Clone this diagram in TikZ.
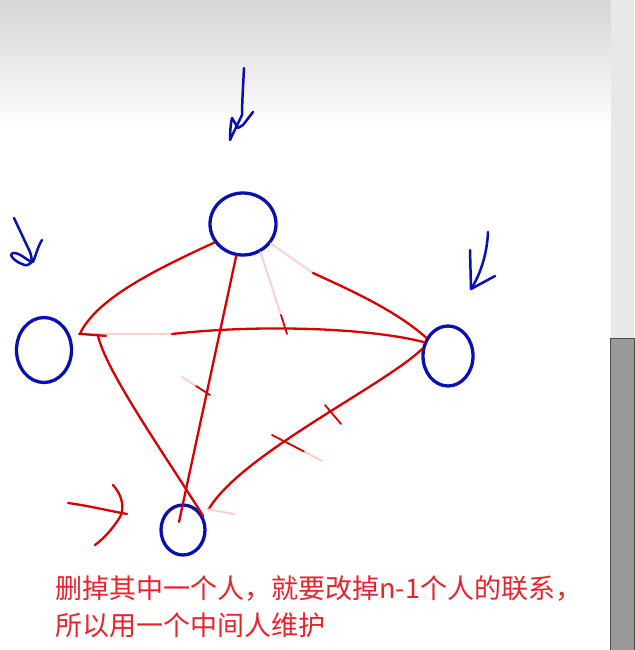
\documentclass[tikz,border=0pt]{standalone}
\usepackage{fontspec}
\newfontfamily\cjk{Noto Sans CJK SC}
\usepackage{tikz}
\usetikzlibrary{shapes.geometric,calc}
\definecolor{pen}{HTML}{D80000}
\definecolor{ink}{HTML}{0A10B0}
\definecolor{note}{HTML}{E8232A}
\definecolor{shadow}{HTML}{D6D6D6}

\begin{document}
\begin{tikzpicture}[
  x=1pt, y=-1pt,
  person/.style={ellipse, draw=ink, line width=3.3pt, inner sep=0pt},
  link/.style={pen, line width=2.3pt, line cap=round},
  faint/.style={pen!18, line width=2pt, line cap=round},
  tick/.style={pen, line width=1.8pt, line cap=round},
  pointer/.style={ink, line width=2.5pt, line cap=round, line join=round},
  notetext/.style={text=note, font=\cjk\fontsize{27}{30}\selectfont, inner sep=0pt}
]
  % screen background
  \useasboundingbox (0,0) rectangle (634,650);
  \fill[white] (0,0) rectangle (634,650);
  \shade[top color=shadow, bottom color=white] (0,0) rectangle (611,130);
  \fill[black!9] (611,0) rectangle (634,650);
  \filldraw[fill=black!40, draw=black!70, line width=0.8pt] (610.5,338) rectangle (634,650);

  % the four people
  \node[person, minimum width=66pt, minimum height=62pt] (ptop) at (243,224) {};
  \node[person, minimum width=55pt, minimum height=65pt] (pleft) at (44,350) {};
  \node[person, minimum width=50pt, minimum height=60pt] (pright) at (448,356) {};
  \node[person, minimum width=44pt, minimum height=50pt] (pbottom) at (183,530) {};

  \coordinate (corner) at ($(pleft.20)+(8,-6)$);
  \coordinate (lr) at (172,334);
  \coordinate (tr) at (313,273);
  \coordinate (rb) at ($(pbottom.45)+(8,-3)$);

  % links
  \draw[faint] (corner) -- (lr);
  \draw[link] (ptop.213) .. controls (150,272) and (96,300) .. (corner) -- ++(26,2);
  \draw[link] (lr) .. controls (260,324) and (370,328) .. (pright.150);
  \draw[faint] (ptop.-35) -- (tr);
  \draw[link] (tr) .. controls (350,290) and (395,310) .. (pright.140);
  \draw[link] (ptop.258) -- ($(pbottom.center)+(-4,-8)$);
  \draw[link] ($(corner)+(18,1)$) .. controls (105,370) and (165,455) .. (pbottom.35);
  \draw[link] (pright.165) .. controls (385,385) and (240,455) .. (rb);
  \draw[faint] (rb) -- ++(26,5);

  % crossed-out marks
  \draw[faint] (ptop.-58) -- (281,315);
  \draw[tick] (281,315) -- (287,334);
  \draw[faint] (182,377) -- (196,386);
  \draw[tick] (196,386) -- (210,395);
  \draw[tick] (272,435) -- (305,452);
  \draw[faint] (305,452) -- (322,461);
  \draw[tick] (325,405) -- (341,424);

  % pointers
  \draw[pointer] (244,68) .. controls (243,88) and (242,104) .. (242,115) -- (230,140)
    .. controls (230,130) and (231,122) .. (232,118) -- (238,128) -- (243,125) -- (253,112);
  \draw[pointer] (14,218) -- (30,252) .. controls (34,262) and (30,268) .. (22,264)
    .. controls (14,261) and (8,254) .. (13,253) .. controls (20,252) and (28,262) .. (33,262)
    .. controls (36,255) and (38,246) .. (42,240);
  \draw[pointer] (488,232) .. controls (487,255) and (480,275) .. (471,289);
  \draw[pointer] (470,250) -- (471,289) -- (495,276);
  \draw[link] (68,503) .. controls (90,506) and (110,511) .. (127,514);
  \draw[link] (113,485) .. controls (122,495) and (125,508) .. (120,517)
    .. controls (112,530) and (102,540) .. (95,545);

  % note
  \node[notetext, anchor=base west] (line1) at (55,598) {删掉其中一个人，就要改掉n-1个人的联系，};
  \node[notetext, anchor=base west] (line2) at (55,635) {所以用一个中间人维护};
\end{tikzpicture}
\end{document}
